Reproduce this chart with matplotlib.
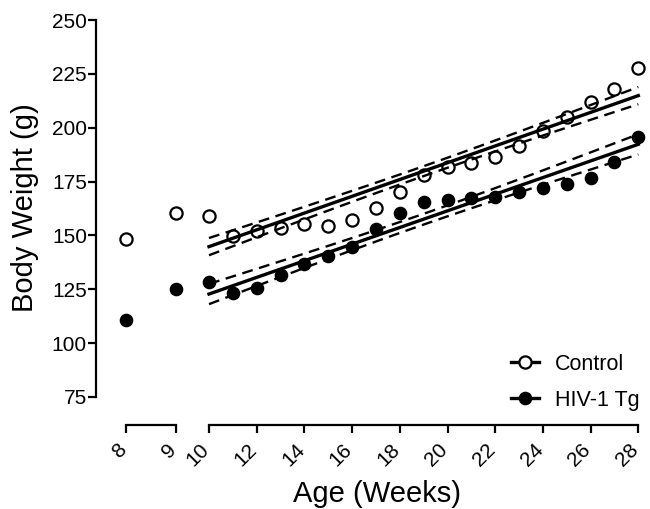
import numpy as np
import matplotlib.pyplot as plt
from matplotlib.lines import Line2D
from matplotlib.transforms import ScaledTranslation

plt.rcParams['font.family'] = ['Liberation Sans', 'DejaVu Sans']

# Mean body weight per week
weeks = np.arange(8, 29)
control = [148.2, 160.6, 159.0, 149.7, 152.2, 153.3, 155.1, 154.5, 157.2, 162.9, 170.3,
           178.1, 181.9, 183.8, 186.3, 191.5, 198.7, 205.2, 211.9, 217.8, 227.6]
hiv = [110.7, 125.0, 128.2, 123.4, 125.7, 131.6, 136.6, 140.4, 144.8, 153.0, 160.3,
       165.4, 166.4, 167.2, 168.0, 170.3, 171.9, 173.9, 176.8, 184.2, 195.5]

# Linear fit (weeks 10-28) and 95% CI half widths (centre, ends)
fit_weeks = [10, 28]
control_fit = [144.8, 214.9]
hiv_fit = [122.8, 192.3]
control_ci = [2.3, 4.0]
hiv_ci = [2.5, 4.7]

x_ticks_left = [8, 9]
x_ticks_right = list(range(10, 29, 2))
y_ticks = list(range(75, 251, 25))

W, H = 650, 509
fig = plt.figure(figsize=(W / 100, H / 100), dpi=100)


def px_axes(x0, x1, y0, y1):
    return fig.add_axes([x0 / W, 1 - y1 / H, (x1 - x0) / W, (y1 - y0) / H])


ax1 = px_axes(96, 190, 20, 397)
ax2 = px_axes(190, 645, 20, 397)

ax1.set_xlim(7.406, 9.286)
ax2.set_xlim(9.203, 28.28)

weeks_arr = np.array(weeks)
left = weeks_arr <= 9
right = ~left

ms = 8.8
for ax, mask in [(ax1, left), (ax2, right)]:
    ax.plot(weeks_arr[mask], np.array(control)[mask], 'o', ms=ms, mfc='none',
            mec='black', mew=1.6, clip_on=False, zorder=3)
    ax.plot(weeks_arr[mask], np.array(hiv)[mask], 'o', ms=ms, mfc='black',
            mec='black', mew=1.0, clip_on=False, zorder=3)

# regression lines with confidence bands
xs = np.linspace(fit_weeks[0], fit_weeks[1], 60)
mid = (fit_weeks[0] + fit_weeks[1]) / 2
half = (fit_weeks[1] - fit_weeks[0]) / 2
for fit, ci in [(control_fit, control_ci), (hiv_fit, hiv_ci)]:
    line = np.interp(xs, fit_weeks, fit)
    band = np.sqrt(ci[0] ** 2 + (ci[1] ** 2 - ci[0] ** 2) * ((xs - mid) / half) ** 2)
    ax2.plot(xs, line, color='black', lw=2.4, zorder=2)
    ax2.plot(xs, line + band, color='black', lw=1.7, dashes=(4.6, 2.8), zorder=2)
    ax2.plot(xs, line - band, color='black', lw=1.7, dashes=(4.6, 2.8), zorder=2)

shift = ScaledTranslation(4 / 100, 0, fig.dpi_scale_trans)
for ax, ticks in [(ax1, x_ticks_left), (ax2, x_ticks_right)]:
    ax.set_ylim(75, 250)
    ax.set_facecolor('none')
    ax.spines['top'].set_visible(False)
    ax.spines['right'].set_visible(False)
    ax.spines['bottom'].set_position(('outward', 20))
    ax.spines['bottom'].set_bounds(ticks[0], ticks[-1])
    ax.spines['bottom'].set_linewidth(1.6)
    ax.set_xticks(ticks)
    ax.set_xticklabels([str(t) for t in ticks], rotation=45, ha='right', va='top')
    ax.tick_params(axis='x', direction='out', length=6, width=1.6, pad=5, labelsize=15)
    for lab in ax.get_xticklabels():
        lab.set_transform(lab.get_transform() + shift)

ax1.spines['left'].set_linewidth(1.6)
ax1.set_yticks(y_ticks)
ax1.tick_params(axis='y', direction='out', length=5.5, width=1.6, pad=1, labelsize=15)
ax2.spines['left'].set_visible(False)
ax2.tick_params(axis='y', left=False, labelleft=False)

fig.text(25 / W, 1 - 208 / H, 'Body Weight (g)', rotation=90, ha='center',
         va='center', fontsize=21)
fig.text(377 / W, 1 - 494 / H, 'Age (Weeks)', ha='center', va='center', fontsize=21)

handles = [
    Line2D([], [], color='black', lw=2.4, marker='o', ms=ms, mfc='white', mec='black', mew=1.6),
    Line2D([], [], color='black', lw=2.4, marker='o', ms=ms, mfc='black', mec='black'),
]
ax2.legend(handles, ['Control', 'HIV-1 Tg'], loc='lower right',
           bbox_to_anchor=(640 / W, 1 - 411 / H), bbox_transform=fig.transFigure,
           frameon=False, fontsize=15.5, borderpad=0, borderaxespad=0,
           handlelength=1.3, handletextpad=0.75, labelspacing=0.72)

fig.savefig('out.png', dpi=100)
